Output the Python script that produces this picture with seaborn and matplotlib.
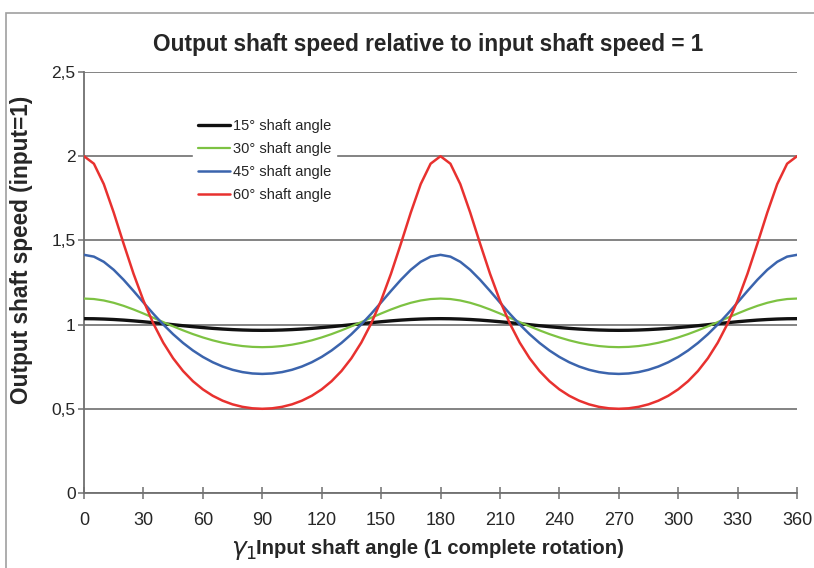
import matplotlib
matplotlib.use("Agg")
import matplotlib.pyplot as plt
import seaborn as sns
import pandas as pd
from matplotlib.patches import Rectangle

# Input shaft angle, degrees (one full rotation in 5 degree steps)
angle = list(range(0, 361, 5))

# Output shaft speed for each shaft angle (input speed = 1)
speed_15 = [1.0353, 1.0347, 1.0330, 1.0303, 1.0267, 1.0222, 1.0170, 1.0114, 1.0055, 0.9994,
            0.9934, 0.9877, 0.9824, 0.9776, 0.9736, 0.9703, 0.9679, 0.9664, 0.9659,
            0.9664, 0.9679, 0.9703, 0.9736, 0.9776, 0.9824, 0.9877, 0.9934, 0.9994,
            1.0055, 1.0114, 1.0170, 1.0222, 1.0267, 1.0303, 1.0330, 1.0347, 1.0353,
            1.0347, 1.0330, 1.0303, 1.0267, 1.0222, 1.0170, 1.0114, 1.0055, 0.9994,
            0.9934, 0.9877, 0.9824, 0.9776, 0.9736, 0.9703, 0.9679, 0.9664, 0.9659,
            0.9664, 0.9679, 0.9703, 0.9736, 0.9776, 0.9824, 0.9877, 0.9934, 0.9994,
            1.0055, 1.0114, 1.0170, 1.0222, 1.0267, 1.0303, 1.0330, 1.0347, 1.0353]
speed_30 = [1.1547, 1.1518, 1.1432, 1.1295, 1.1114, 1.0898, 1.0659, 1.0406, 1.0149, 0.9897,
            0.9658, 0.9436, 0.9238, 0.9065, 0.8921, 0.8808, 0.8726, 0.8677, 0.8660,
            0.8677, 0.8726, 0.8808, 0.8921, 0.9065, 0.9238, 0.9436, 0.9658, 0.9897,
            1.0149, 1.0406, 1.0659, 1.0898, 1.1114, 1.1295, 1.1432, 1.1518, 1.1547,
            1.1518, 1.1432, 1.1295, 1.1114, 1.0898, 1.0659, 1.0406, 1.0149, 0.9897,
            0.9658, 0.9436, 0.9238, 0.9065, 0.8921, 0.8808, 0.8726, 0.8677, 0.8660,
            0.8677, 0.8726, 0.8808, 0.8921, 0.9065, 0.9238, 0.9436, 0.9658, 0.9897,
            1.0149, 1.0406, 1.0659, 1.0898, 1.1114, 1.1295, 1.1432, 1.1518, 1.1547]
speed_45 = [1.4142, 1.4036, 1.3728, 1.3254, 1.2661, 1.1999, 1.1314, 1.0641, 1.0007, 0.9428,
            0.8912, 0.8463, 0.8081, 0.7764, 0.7510, 0.7316, 0.7179, 0.7098, 0.7071,
            0.7098, 0.7179, 0.7316, 0.7510, 0.7764, 0.8081, 0.8463, 0.8912, 0.9428,
            1.0007, 1.0641, 1.1314, 1.1999, 1.2661, 1.3254, 1.3728, 1.4036, 1.4142,
            1.4036, 1.3728, 1.3254, 1.2661, 1.1999, 1.1314, 1.0641, 1.0007, 0.9428,
            0.8912, 0.8463, 0.8081, 0.7764, 0.7510, 0.7316, 0.7179, 0.7098, 0.7071,
            0.7098, 0.7179, 0.7316, 0.7510, 0.7764, 0.8081, 0.8463, 0.8912, 0.9428,
            1.0007, 1.0641, 1.1314, 1.1999, 1.2661, 1.3254, 1.3728, 1.4036, 1.4142]
speed_60 = [2.0000, 1.9554, 1.8341, 1.6653, 1.4805, 1.3022, 1.1429, 1.0066, 0.8930, 0.8000,
            0.7245, 0.6638, 0.6154, 0.5773, 0.5481, 0.5264, 0.5116, 0.5029, 0.5000,
            0.5029, 0.5116, 0.5264, 0.5481, 0.5773, 0.6154, 0.6638, 0.7245, 0.8000,
            0.8930, 1.0066, 1.1429, 1.3022, 1.4805, 1.6653, 1.8341, 1.9554, 2.0000,
            1.9554, 1.8341, 1.6653, 1.4805, 1.3022, 1.1429, 1.0066, 0.8930, 0.8000,
            0.7245, 0.6638, 0.6154, 0.5773, 0.5481, 0.5264, 0.5116, 0.5029, 0.5000,
            0.5029, 0.5116, 0.5264, 0.5481, 0.5773, 0.6154, 0.6638, 0.7245, 0.8000,
            0.8930, 1.0066, 1.1429, 1.3022, 1.4805, 1.6653, 1.8341, 1.9554, 2.0000]

series_names = ["15° shaft angle", "30° shaft angle", "45° shaft angle", "60° shaft angle"]
series_colors = ["#111111", "#7dc242", "#3b64ad", "#e8312f"]
series_widths = [2.4, 1.6, 1.8, 1.8]

x_ticks = list(range(0, 361, 30))
y_ticks = [0, 0.5, 1, 1.5, 2, 2.5]
y_tick_labels = ["0", "0,5", "1", "1,5", "2", "2,5"]

sns.set_style("white")
plt.rcParams["font.family"] = ["Liberation Sans", "DejaVu Sans"]

fig = plt.figure(figsize=(8.14, 5.68), dpi=100)
W, H = 814, 568

# light outer frame around the chart area
fig.patches.append(Rectangle((6 / W, -0.05), 1.0, 1 - 13 / H + 0.05, transform=fig.transFigure,
                             fill=False, edgecolor="#a0a0a0", linewidth=1.2))

ax = fig.add_axes([84 / W, 1 - 493 / H, (797 - 84) / W, (493 - 72) / H])

frames = []
for name, vals in zip(series_names, [speed_15, speed_30, speed_45, speed_60]):
    frames.append(pd.DataFrame({"angle": angle, "speed": vals, "series": name}))
df = pd.concat(frames, ignore_index=True)

for name, color, lw in zip(series_names, series_colors, series_widths):
    sns.lineplot(data=df[df["series"] == name], x="angle", y="speed", color=color,
                 linewidth=lw, label=name, ax=ax, zorder=3)

ax.set_xlim(0, 360)
ax.set_ylim(0, 2.5)
ax.set_xticks(x_ticks)
ax.set_xticklabels([str(t) for t in x_ticks], fontsize=13)
ax.set_yticks(y_ticks)
ax.set_yticklabels(y_tick_labels, fontsize=12.5)
ax.yaxis.grid(True, color="#7a7a7a", linewidth=1.3)
ax.set_axisbelow(True)
for side in ["top", "right"]:
    ax.spines[side].set_visible(False)
for side in ["left", "bottom"]:
    ax.spines[side].set_color("#707070")
    ax.spines[side].set_linewidth(1.3)
ax.tick_params(axis="y", direction="out", length=4, width=1.1, color="#707070",
               left=True, pad=2)
ax.tick_params(axis="x", direction="inout", length=8, width=1.1, color="#707070",
               bottom=True, pad=10)

ax.set_xlabel("")
ax.set_ylabel("")

fig.text(22 / W, 1 - 250 / H, "Output shaft speed (input=1)", rotation=90,
         ha="center", va="center", fontsize=16.3, fontweight="bold")
fig.text(428 / W, 1 - 44 / H, "Output shaft speed relative to input shaft speed = 1",
         ha="center", va="center", fontsize=16.3, fontweight="bold")
fig.text(231 / W, 1 - 551 / H, r"$\gamma_1$", ha="left", va="center", fontsize=18,
         family="DejaVu Serif")
fig.text(256 / W, 1 - 548 / H, "Input shaft angle (1 complete rotation)", ha="left",
         va="center", fontsize=14.6, fontweight="bold")

leg = ax.legend(loc="upper left", bbox_to_anchor=(186 / W, 1 - 107 / H),
                bbox_transform=fig.transFigure, frameon=True, fontsize=10.5,
                handlelength=2.2, handletextpad=0.25, labelspacing=0.62, borderpad=0.3)
leg.get_frame().set_facecolor("white")
leg.get_frame().set_edgecolor("white")
leg.get_frame().set_alpha(1)

fig.savefig("out.png", dpi=100)
